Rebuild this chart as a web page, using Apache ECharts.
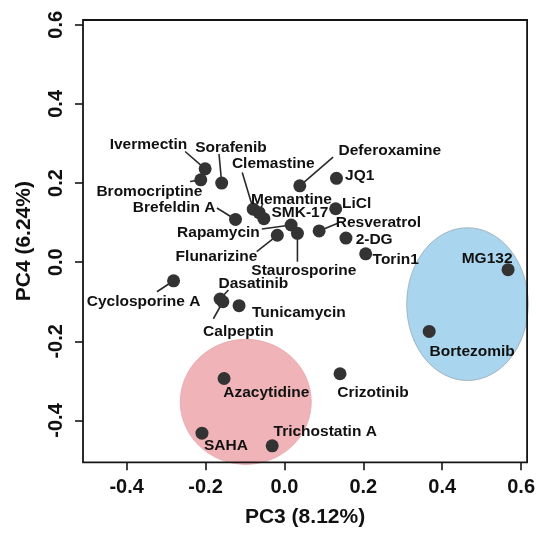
<!DOCTYPE html>
<html>
<head>
<meta charset="utf-8">
<script src="https://cdn.jsdelivr.net/npm/echarts@6/dist/echarts.min.js"></script>
<style>
  html, body { margin: 0; padding: 0; background: #ffffff; }
  #chart { width: 538px; height: 534px; }
</style>
</head>
<body>
<div id="chart"></div>
<script>
// PCA scores of compound-treated samples (PC3 vs PC4)
const compounds = [
  'Ivermectin', 'Sorafenib', 'Bromocriptine', 'Brefeldin A', 'Clemastine',
  'Memantine', 'SMK-17', 'Rapamycin', 'Flunarizine', 'Staurosporine',
  'Deferoxamine', 'JQ1', 'LiCl', 'Resveratrol', '2-DG', 'Torin1',
  'Cyclosporine A', 'Dasatinib', 'Tunicamycin', 'Calpeptin',
  'Azacytidine', 'SAHA', 'Trichostatin A', 'Crizotinib', 'MG132', 'Bortezomib'
];
const pc3 = [
  -0.201, -0.159, -0.212, -0.124, -0.079,
  -0.064, -0.052, 0.017, -0.018, 0.033,
  0.039, 0.132, 0.130, 0.088, 0.156, 0.206,
  -0.281, -0.163, -0.115, -0.156,
  -0.153, -0.209, -0.031, 0.141, 0.567, 0.367
];
const pc4 = [
  0.236, 0.200, 0.208, 0.108, 0.134,
  0.125, 0.110, 0.094, 0.068, 0.073,
  0.193, 0.212, 0.135, 0.079, 0.061, 0.021,
  -0.047, -0.093, -0.110, -0.100,
  -0.294, -0.432, -0.464, -0.282, -0.019, -0.175
];

// Highlighted groups drawn as ellipses (centre and half-axes in PC units)
const groupNames = ['HDAC', 'Proteasome'];
const groupPc3 = [-0.098, 0.464];
const groupPc4 = [-0.353, -0.106];
const groupHalfPc3 = [0.166, 0.154];
const groupHalfPc4 = [0.158, 0.193];

const tickValues = [-0.4, -0.2, 0.0, 0.2, 0.4, 0.6];

// Label placement: pixel offset of the label centre from its point
const labelOffset = {
  'Ivermectin': [-56.7, -24.5],
  'Sorafenib': [9.3, -35],
  'Bromocriptine': [-51.4, 12.3],
  'Brefeldin A': [-61.3, -11.4],
  'Clemastine': [20, -45.3],
  'Memantine': [32.3, -13.4],
  'SMK-17': [36, -6.4],
  'Rapamycin': [-72.7, 8],
  'Flunarizine': [-60.8, 21],
  'Staurosporine': [6.4, 37],
  'Deferoxamine': [90, -35.3],
  'JQ1': [23.2, -3],
  'LiCl': [21, -5],
  'Resveratrol': [59.3, -8.4],
  '2-DG': [28.2, 1.4],
  'Torin1': [30, 5.7],
  'Cyclosporine A': [-30, 21],
  'Dasatinib': [33.3, -15.7],
  'Tunicamycin': [59.8, 6.7],
  'Calpeptin': [15.5, 29.6],
  'Azacytidine': [42.3, 14.6],
  'SAHA': [24, 12.4],
  'Trichostatin A': [53, -14],
  'Crizotinib': [33, 19.3],
  'MG132': [-21, -11],
  'Bortezomib': [43, 20.6]
};

// Leader lines: pixel offset of the label-side end from the point
const leaderEnd = {
  'Ivermectin': [-20, -17.3],
  'Sorafenib': [-2.7, -29],
  'Bromocriptine': [-10.7, 1.7],
  'Brefeldin A': [-18.6, -11.4],
  'Clemastine': [-11, -36.6],
  'Memantine': [3.7, -9.4],
  'Rapamycin': [-29.3, 4],
  'Flunarizine': [-20.6, 16.4],
  'Staurosporine': [0, 28.4],
  'Deferoxamine': [33.3, -28.7],
  'Resveratrol': [18, -7.4],
  'Cyclosporine A': [-16.6, 11],
  'Dasatinib': [8.3, -9],
  'Calpeptin': [-9.5, 17]
};

const groupFill = { 'HDAC': '#f0b3b8', 'Proteasome': '#a9d5ee' };
const groupStroke = { 'HDAC': '#e6a6ab', 'Proteasome': '#9aa8b2' };

const FONT = '"Liberation Sans", Arial, Helvetica, sans-serif';
const INK = '#111111';

const pointData = compounds.map((name, i) => ({
  name: name,
  value: [pc3[i], pc4[i]],
  label: { offset: labelOffset[name] }
}));

const leaderNames = compounds.filter(n => leaderEnd[n]);
const leaderData = leaderNames.map(n => {
  const i = compounds.indexOf(n);
  return { name: n, value: [pc3[i], pc4[i]] };
});

const groupData = groupNames.map((g, i) => ({
  name: g,
  value: [groupPc3[i], groupPc4[i], groupHalfPc3[i], groupHalfPc4[i]]
}));

const chart = echarts.init(document.getElementById('chart'), null, { renderer: 'canvas' });

chart.setOption({
  animation: false,
  backgroundColor: '#ffffff',
  grid: {
    left: 83, top: 20, width: 444.7, height: 442.3,
    show: true, z: 5,
    borderColor: '#151515', borderWidth: 1.8,
    backgroundColor: 'transparent'
  },
  xAxis: {
    type: 'value',
    min: -0.5106, max: 0.6152,
    splitLine: { show: false },
    axisLine: { show: false, onZero: false },
    axisTick: {
      show: true, length: 8, inside: false,
      customValues: tickValues,
      lineStyle: { color: '#151515', width: 1.6 }
    },
    axisLabel: {
      customValues: tickValues,
      margin: 15,
      color: INK, fontFamily: FONT, fontWeight: 'bold', fontSize: 20,
      formatter: v => v.toFixed(1)
    },
    name: 'PC3 (8.12%)',
    nameLocation: 'middle',
    nameGap: 44,
    nameTextStyle: { color: INK, fontFamily: FONT, fontWeight: 'bold', fontSize: 21 }
  },
  yAxis: {
    type: 'value',
    min: -0.5057, max: 0.612,
    splitLine: { show: false },
    axisLine: { show: false, onZero: false },
    axisTick: {
      show: true, length: 8, inside: false,
      customValues: tickValues,
      lineStyle: { color: '#151515', width: 1.6 }
    },
    axisLabel: {
      customValues: tickValues,
      rotate: 90,
      margin: 17,
      color: INK, fontFamily: FONT, fontWeight: 'bold', fontSize: 20,
      formatter: v => v.toFixed(1)
    },
    name: 'PC4 (6.24%)',
    nameLocation: 'middle',
    nameGap: 48,
    nameTextStyle: { color: INK, fontFamily: FONT, fontWeight: 'bold', fontSize: 21 }
  },
  series: [
    {
      type: 'custom',
      name: 'groups',
      z: 1,
      clip: false,
      silent: true,
      data: groupData,
      renderItem: (params, api) => {
        const c = api.coord([api.value(0), api.value(1)]);
        const s = api.size([api.value(2), api.value(3)]);
        const g = groupNames[params.dataIndex];
        return {
          type: 'ellipse',
          shape: { cx: c[0], cy: c[1], rx: s[0], ry: s[1] },
          style: { fill: groupFill[g], stroke: groupStroke[g], lineWidth: 0.8 }
        };
      }
    },
    {
      type: 'custom',
      name: 'leaders',
      z: 2,
      clip: false,
      silent: true,
      data: leaderData,
      renderItem: (params, api) => {
        const c = api.coord([api.value(0), api.value(1)]);
        const e = leaderEnd[leaderNames[params.dataIndex]];
        return {
          type: 'line',
          shape: { x1: c[0], y1: c[1], x2: c[0] + e[0], y2: c[1] + e[1] },
          style: { stroke: '#2a2a2a', lineWidth: 1.6 }
        };
      }
    },
    {
      type: 'scatter',
      name: 'compounds',
      z: 3,
      symbol: 'circle',
      symbolSize: 13,
      itemStyle: { color: '#333333', opacity: 1 },
      data: pointData,
      label: {
        show: true,
        position: 'inside',
        formatter: '{b}',
        color: INK,
        fontFamily: FONT,
        fontWeight: 'bold',
        fontSize: 15.5,
        textBorderWidth: 0
      }
    }
  ]
});
</script>
</body>
</html>
